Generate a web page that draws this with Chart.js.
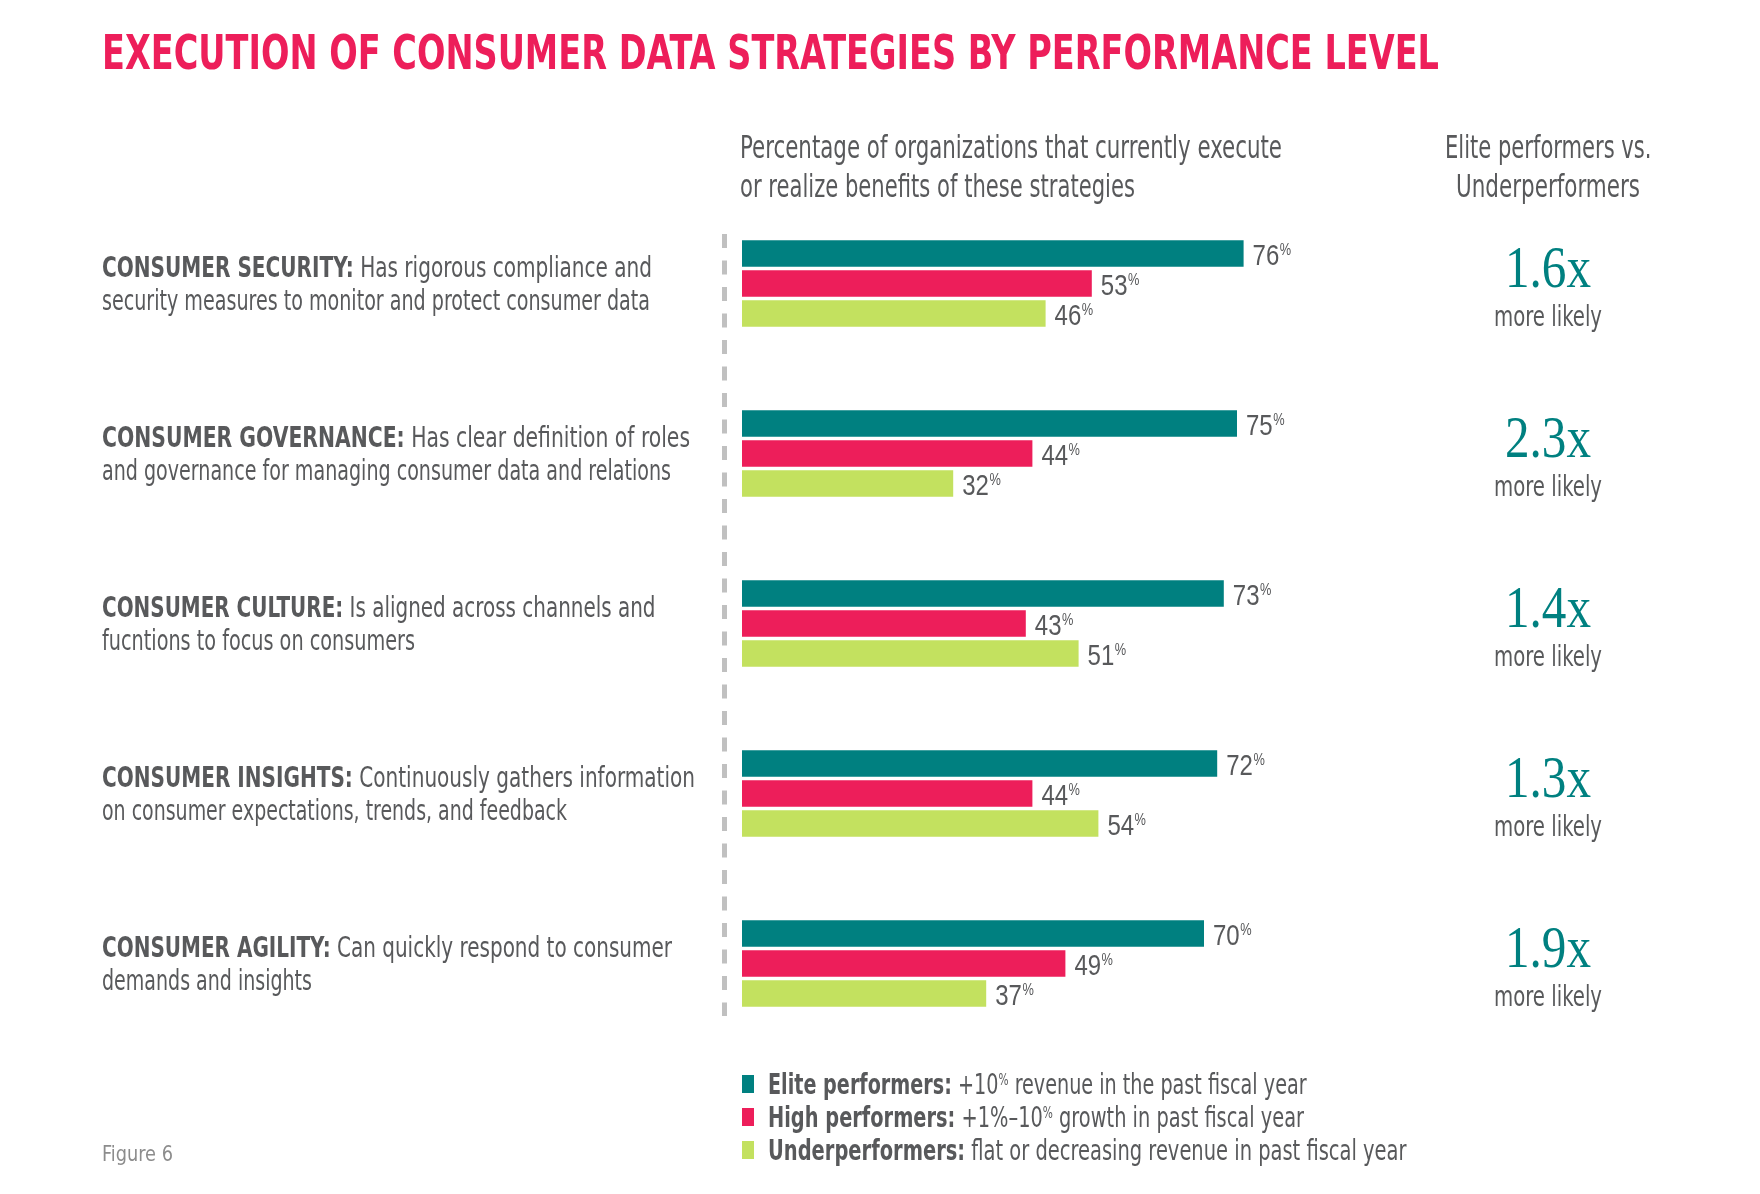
<!DOCTYPE html>
<html>
<head>
<meta charset="utf-8">
<title>Execution of consumer data strategies by performance level</title>
<script src="https://cdn.jsdelivr.net/npm/chart.js@4.4.1/dist/chart.umd.min.js"></script>
<style>
    html, body { margin: 0; padding: 0; background: #fff; }
    body {
        width: 1760px; height: 1194px; position: relative; overflow: hidden;
        font-family: "Liberation Sans Narrow", "DejaVu Sans Condensed", sans-serif;
        color: #58595b;
    }
    #chart { position: absolute; left: 0; top: 0; }
    .t { position: absolute; white-space: nowrap; line-height: 1; transform-origin: 0 50%; }
    .t b { font-weight: 700; }
    .title { font-size: 48px; font-weight: 700; color: #ed1e5a; }
    .head { font-size: 32px; }
    .cat { font-size: 28px; }
    .ratio { font-family: "Liberation Serif", "DejaVu Serif", serif; font-size: 60px; color: #008080; }
    .likely { font-size: 29px; }
    .legend { font-size: 29px; }
    .fig { font-size: 21px; color: #8c8c8c; }
    .pc { font-size: 0.55em; position: relative; top: -0.55em; }
    .swatch { position: absolute; width: 12px; height: 18px; }
</style>
</head>
<body>
<canvas id="chart" width="1760" height="1194"></canvas>
<script>
// ── Datos ─────────────────────────────────────────────────────────
const categories = ['CONSUMER SECURITY:', 'CONSUMER GOVERNANCE:', 'CONSUMER CULTURE:', 'CONSUMER INSIGHTS:', 'CONSUMER AGILITY:'];
const descLine1 = [
    'Has rigorous compliance and',
    'Has clear definition of roles',
    'Is aligned across channels and',
    'Continuously gathers information',
    'Can quickly respond to consumer'
];
const descLine2 = [
    'security measures to monitor and protect consumer data',
    'and governance for managing consumer data and relations',
    'fucntions to focus on consumers',
    'on consumer expectations, trends, and feedback',
    'demands and insights'
];
const elite = [76, 75, 73, 72, 70];
const high  = [53, 44, 43, 44, 49];
const under = [46, 32, 51, 54, 37];
const ratios = ['1.6x', '2.3x', '1.4x', '1.3x', '1.9x'];

const seriesNames = ['Elite performers:', 'High performers:', 'Underperformers:'];
const seriesDesc = [
    '+10<span class="pc">%</span> revenue in the past fiscal year',
    '+1%–10<span class="pc">%</span> growth in past fiscal year',
    'flat or decreasing revenue in past fiscal year'
];

const TEAL = '#008080';
const PINK = '#ed1e5a';
const LIME = '#c3e15f';
const TEXT = '#58595b';

// ── Texto HTML ajustado al ancho ──────────────────────────────────
function place(html, cls, x, y, opts) {
    const el = document.createElement('div');
    el.className = 't ' + cls;
    el.innerHTML = html;
    document.body.appendChild(el);
    const nat = el.getBoundingClientRect().width;
    const k = opts.k || (opts.w ? opts.w / nat : 1);
    const w = nat * k;
    el.style.left = (opts.align === 'center' ? x - w / 2 : x) + 'px';
    el.style.top = y + 'px';
    el.style.transform = 'translateY(-50%) scaleX(' + k + ')';
    return k;
}

// ── Plugins: línea punteada y etiquetas de valor ──────────────────
const dashLine = {
    id: 'dashLine',
    beforeDatasetsDraw(chart) {
        const { ctx, chartArea } = chart;
        ctx.save();
        ctx.strokeStyle = '#c0c0c0';
        ctx.lineWidth = 5;
        ctx.setLineDash([14, 12.5]);
        ctx.beginPath();
        ctx.moveTo(chartArea.left - 17.5, chartArea.top + 35.5);
        ctx.lineTo(chartArea.left - 17.5, chartArea.bottom - 32.5);
        ctx.stroke();
        ctx.restore();
    }
};

const valueLabels = {
    id: 'valueLabels',
    afterDatasetsDraw(chart) {
        const ctx = chart.ctx;
        ctx.save();
        ctx.fillStyle = TEXT;
        ctx.textBaseline = 'alphabetic';
        chart.data.datasets.forEach((ds, di) => {
            chart.getDatasetMeta(di).data.forEach((bar, i) => {
                const x = bar.x + 9;
                const y = bar.y;
                ctx.font = '30px "Liberation Sans Narrow", sans-serif';
                const txt = String(ds.data[i]);
                const w = ctx.measureText(txt).width * 0.8;
                ctx.save();
                ctx.translate(x, y + 11);
                ctx.scale(0.8, 1);
                ctx.fillText(txt, 0, 0);
                ctx.restore();
                ctx.font = '16px "Liberation Sans Narrow", sans-serif';
                ctx.save();
                ctx.translate(x + w + 0.5, y + 1);
                ctx.scale(0.8, 1);
                ctx.fillText('%', 0, 0);
                ctx.restore();
            });
        });
        ctx.restore();
    }
};

// ── Gráfico de barras horizontales ────────────────────────────────
const chart = new Chart(document.getElementById('chart').getContext('2d'), {
    type: 'bar',
    data: {
        labels: categories,
        datasets: [
            { label: seriesNames[0], data: elite, backgroundColor: TEAL },
            { label: seriesNames[1], data: high,  backgroundColor: PINK },
            { label: seriesNames[2], data: under, backgroundColor: LIME }
        ]
    },
    options: {
        indexAxis: 'y',
        responsive: false,
        animation: false,
        layout: { padding: { left: 742, right: 358, top: 198.5, bottom: 145.5 } },
        datasets: { bar: { categoryPercentage: 90 / 170, barPercentage: 0.89 } },
        scales: {
            x: { display: false, min: 0, max: 100 },
            y: { display: false }
        },
        plugins: { legend: { display: false }, tooltip: { enabled: false } }
    },
    plugins: [dashLine, valueLabels]
});

// ── Textos alrededor del gráfico ──────────────────────────────────
place('EXECUTION OF CONSUMER DATA STRATEGIES BY PERFORMANCE LEVEL', 'title', 102, 51.6, { w: 1337 });

place('Percentage of organizations that currently execute', 'head', 740, 147, { w: 542 });
place('or realize benefits of these strategies', 'head', 740, 186, { w: 395 });
place('Elite performers vs.', 'head', 1548, 147, { w: 206.5, align: 'center' });
place('Underperformers', 'head', 1548, 186, { w: 184, align: 'center' });

const catW1 = [550, 588, 553.5, 593, 570];
const catW2 = [548, 569, 313, 465, 210];
const yScale = chart.scales.y;
let kRatio = 0, kLikely = 0;
categories.forEach((c, i) => {
    const cy = yScale.getPixelForValue(i);
    place('<b>' + c.replace(':', '') + ':</b> ' + descLine1[i], 'cat', 102, cy - 16, { w: catW1[i] });
    place(descLine2[i], 'cat', 102, cy + 17.5, { w: catW2[i] });
    kRatio = place(ratios[i], 'ratio', 1548, cy - 16.5, kRatio ? { k: kRatio, align: 'center' } : { w: 86, align: 'center' });
    kLikely = place('more likely', 'likely', 1548, cy + 32, kLikely ? { k: kLikely, align: 'center' } : { w: 108, align: 'center' });
});

// Leyenda
const legendY = [1084, 1117, 1150];
const legendW = [538.6, 536, 638.5];
chart.data.datasets.forEach((ds, i) => {
    const sw = document.createElement('div');
    sw.className = 'swatch';
    sw.style.background = ds.backgroundColor;
    sw.style.left = '742px';
    sw.style.top = (legendY[i] - 9) + 'px';
    document.body.appendChild(sw);
    place('<b>' + ds.label + '</b> ' + seriesDesc[i], 'legend', 768, legendY[i], { w: legendW[i] });
});

place('Figure 6', 'fig', 102, 1154, { w: 71 });
</script>
</body>
</html>
